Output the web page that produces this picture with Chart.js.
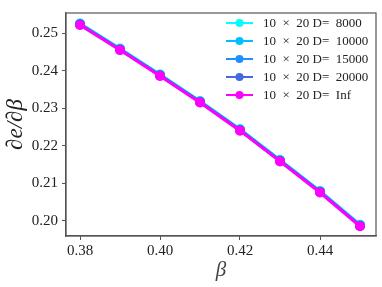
<!DOCTYPE html>
<html>
<head>
<meta charset="utf-8">
<script src="https://cdn.jsdelivr.net/npm/chart.js@4.4.0/dist/chart.umd.min.js"></script>
<style>
  html, body { margin: 0; padding: 0; background: #fff; }
  #wrap { width: 382px; height: 287px; }
</style>
</head>
<body>
<div id="wrap"><canvas id="deChart"></canvas></div>
<script>
var betas = [0.38, 0.39, 0.40, 0.41, 0.42, 0.43, 0.44, 0.45];
var dD8000  = [0.2526, 0.2459, 0.2390, 0.2319, 0.2244, 0.2162, 0.2079, 0.1989];
var dD10000 = [0.2525, 0.2458, 0.2389, 0.2318, 0.2243, 0.2161, 0.2078, 0.1988];
var dD15000 = [0.2524, 0.2457, 0.2388, 0.2317, 0.2242, 0.2160, 0.2077, 0.1987];
var dD20000 = [0.2523, 0.2456, 0.2387, 0.2316, 0.2241, 0.2159, 0.2076, 0.1986];
var dDInf   = [0.2522, 0.2455, 0.2386, 0.2315, 0.2240, 0.2158, 0.2075, 0.1985];
var xTicks = [0.38, 0.40, 0.42, 0.44];
var yTicks = [0.20, 0.21, 0.22, 0.23, 0.24, 0.25];
var labels = ['10\u2002\u00d7\u200220 D=\u20028000', '10\u2002\u00d7\u200220 D=\u200210000',
              '10\u2002\u00d7\u200220 D=\u200215000', '10\u2002\u00d7\u200220 D=\u200220000',
              '10\u2002\u00d7\u200220 D=\u2002Inf'];
var colors = ['#00ffff', '#00bfff', '#1e90ff', '#4169e1', '#ff00ff'];

function pts(vals) {
    return vals.map(function(v, i) { return {x: betas[i], y: v}; });
}

function mkSet(i, vals) {
    return {
        label: labels[i],
        data: pts(vals),
        order: 4 - i,   // Inf drawn on top
        borderColor: colors[i],
        backgroundColor: colors[i],
        borderWidth: 3,
        pointRadius: 5,
        pointBorderWidth: 0,
        pointHoverRadius: 5,
        tension: 0
    };
}

var serif = "'Liberation Serif', 'DejaVu Serif', serif";

// frame on top and right + legend inside the plot
var framePlugin = {
    id: 'frame',
    afterDraw: function(chart) {
        var c = chart.ctx, a = chart.chartArea;
        c.save();
        c.strokeStyle = '#555';
        c.lineWidth = 1.2;
        c.strokeRect(a.left, a.top, a.right - a.left, a.bottom - a.top);

        var x0 = 226, y0 = 23, step = 18;
        c.font = '13px ' + serif;
        c.textBaseline = 'middle';
        chart.data.datasets.forEach(function(ds, i) {
            var y = y0 + i * step;
            c.strokeStyle = ds.borderColor;
            c.lineWidth = 2;
            c.beginPath();
            c.moveTo(x0, y);
            c.lineTo(x0 + 27, y);
            c.stroke();
            c.fillStyle = ds.borderColor;
            c.beginPath();
            c.arc(x0 + 13.5, y, 4, 0, Math.PI * 2);
            c.fill();
            c.fillStyle = '#222';
            c.fillText(ds.label, x0 + 37, y + 1);
        });
        c.restore();
    }
};

var ctx = document.getElementById('deChart').getContext('2d');
var myChart = new Chart(ctx, {
    type: 'line',
    data: {
        datasets: [mkSet(0, dD8000), mkSet(1, dD10000), mkSet(2, dD15000),
                   mkSet(3, dD20000), mkSet(4, dDInf)]
    },
    options: {
        responsive: true,
        maintainAspectRatio: false,
        animation: false,
        layout: { padding: { left: 0, top: 6, right: 6, bottom: 0 } },
        plugins: { legend: { display: false }, tooltip: { enabled: false } },
        scales: {
            x: {
                type: 'linear',
                min: 0.3765,
                max: 0.454,
                afterBuildTicks: function(s) { s.ticks = xTicks.map(function(v) { return {value: v}; }); },
                afterFit: function(s) { s.height = 51; },
                ticks: {
                    color: '#222',
                    font: { family: serif, size: 15 },
                    padding: 2,
                    maxRotation: 0,
                    callback: function(v) { return v.toFixed(2); }
                },
                grid: { drawOnChartArea: false, tickLength: 4, color: '#555' },
                border: { color: '#555', width: 1.2 },
                title: {
                    display: true,
                    text: '\u03b2',
                    color: '#444',
                    font: { family: serif, size: 21, style: 'italic' },
                    padding: { top: 0, bottom: 4 }
                }
            },
            y: {
                min: 0.1959,
                max: 0.2554,
                afterBuildTicks: function(s) { s.ticks = yTicks.map(function(v) { return {value: v}; }); },
                afterFit: function(s) { s.width = 66; },
                ticks: {
                    color: '#222',
                    font: { family: serif, size: 15 },
                    padding: 4,
                    callback: function(v) { return v.toFixed(2); }
                },
                grid: { drawOnChartArea: false, tickLength: 4, color: '#555' },
                border: { color: '#555', width: 1.2 },
                title: {
                    display: true,
                    text: '\u2202e/\u2202\u03b2',
                    color: '#222',
                    font: { family: serif, size: 23, style: 'italic' },
                    padding: { top: 2, bottom: 0 }
                }
            }
        }
    },
    plugins: [framePlugin]
});
</script>
</body>
</html>
